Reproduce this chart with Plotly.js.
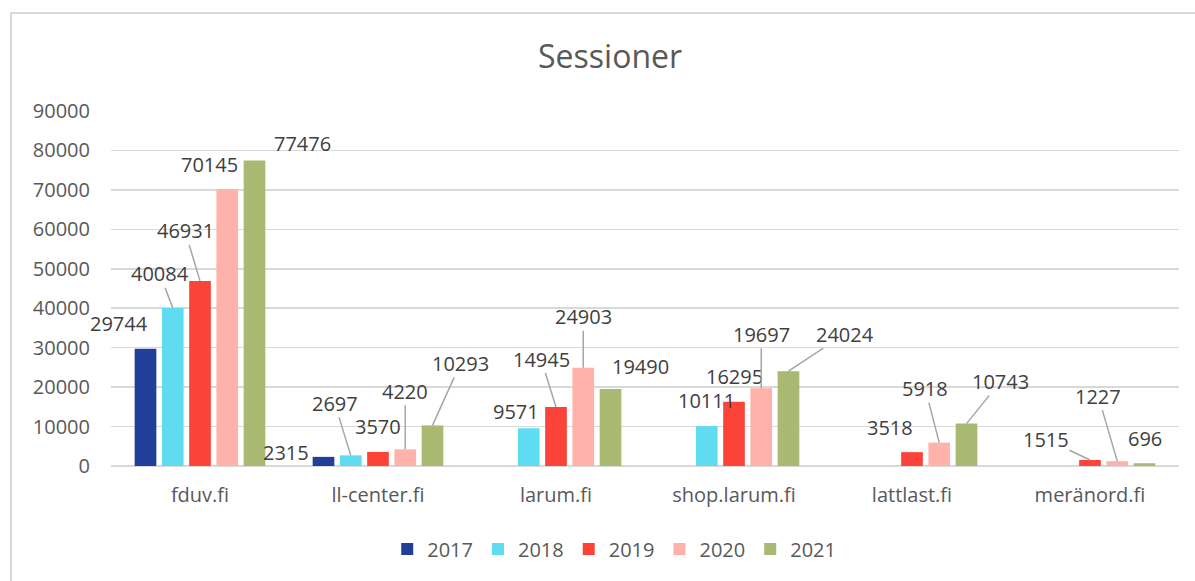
<!DOCTYPE html>
<html>
<head>
<meta charset="utf-8">
<script src="https://cdn.plot.ly/plotly-3.0.1.min.js"></script>
<style>
  html, body { margin: 0; padding: 0; background: #ffffff; overflow: hidden; }
  #frame { position: absolute; left: 10px; top: 12px; width: 1300px; height: 700px;
           border-left: 2px solid #d9d9d9; border-top: 2px solid #d9d9d9; pointer-events: none; }
  #chart { position: absolute; left: 0; top: 0; width: 1195px; height: 581px; }
</style>
</head>
<body>
<div id="chart"></div>
<div id="frame"></div>
<script>
// ---- data ----
const categories = ['fduv.fi', 'll-center.fi', 'larum.fi', 'shop.larum.fi', 'lattlast.fi', 'meränord.fi'];
const seriesNames = ['2017', '2018', '2019', '2020', '2021'];
const v2017 = [29744, 2315, null, null, null, null];
const v2018 = [40084, 2697, 9571, 10111, null, null];
const v2019 = [46931, 3570, 14945, 16295, 3518, 1515];
const v2020 = [70145, 4220, 24903, 19697, 5918, 1227];
const v2021 = [77476, 10293, 19490, 24024, 10743, 696];
const yTicks = [0, 10000, 20000, 30000, 40000, 50000, 60000, 70000, 80000, 90000];

// ---- styles ----
const colors = ['#213F99', '#5FDCF2', '#FC433A', '#FEB2A9', '#A9B972'];
const allSeries = [v2017, v2018, v2019, v2020, v2021];

// label placement (pixel offsets of label centre from bar top, leader line flag)
// [series][category] -> [dx, dy, leader]
const labelPlacement = [
  [[-27, -25, 0], [-38, -4, 0], null, null, null, null],
  [[-13, -34, 1], [-16, -52, 1], [-13, -17, 0], [0, -26, 0], null, null],
  [[-15, -50, 1], [0, -25, 0], [-15, -48, 1], [0, -25, 0], [-22, -25, 0], [-44, -21, 1]],
  [[-18, -25, 0], [0, -58, 1], [0, -51, 1], [0, -54, 1], [-14, -54, 1], [-19, -65, 1]],
  [[48, -17, 0], [28, -62, 1], [30, -23, 0], [56, -37, 1], [34, -42, 1], [0, -25, 0]]
];

const bargap = 0.2346;
const bargroupgap = 0.204;
const nS = seriesNames.length;
const slot = (1 - bargap) / nS;

const traces = allSeries.map((vals, j) => ({
  type: 'bar',
  name: seriesNames[j],
  x: categories,
  y: vals,
  marker: { color: colors[j] },
  hoverinfo: 'skip'
}));

const annotations = [];
allSeries.forEach((vals, j) => {
  vals.forEach((v, i) => {
    if (v === null) return;
    const p = labelPlacement[j][i];
    annotations.push({
      xref: 'x', yref: 'y',
      x: i + (j - (nS - 1) / 2) * slot,
      y: v,
      text: String(v),
      showarrow: true,
      arrowhead: 0,
      arrowwidth: 1.5,
      arrowcolor: p[2] ? '#a6a6a6' : 'rgba(0,0,0,0)',
      standoff: 0,
      startstandoff: 0,
      ax: p[0], ay: p[1],
      borderpad: 0,
      font: { family: 'Open Sans, sans-serif', size: 20, color: '#404040' }
    });
  });
});

const layout = {
  width: 1195, height: 581,
  paper_bgcolor: 'rgba(0,0,0,0)',
  plot_bgcolor: 'rgba(0,0,0,0)',
  margin: { l: 111, r: 16, t: 111, b: 115, autoexpand: false },
  barmode: 'group',
  bargap: bargap,
  bargroupgap: bargroupgap,
  title: {
    text: 'Sessioner',
    font: { family: 'Open Sans, sans-serif', size: 32, color: '#595959' },
    xref: 'container', yref: 'container',
    x: 0.5105, y: 0.902, xanchor: 'center', yanchor: 'middle'
  },
  xaxis: {
    type: 'category',
    range: [-0.5, categories.length - 0.5],
    autorange: false,
    showgrid: false,
    showline: false,
    ticks: '',
    ticklabelstandoff: 15,
    tickfont: { family: 'Open Sans, sans-serif', size: 20, color: '#595959' }
  },
  yaxis: {
    range: [0, 90000],
    autorange: false,
    tickvals: yTicks,
    ticktext: yTicks.map(String),
    showgrid: true,
    gridcolor: '#d9d9d9',
    gridwidth: 1.6,
    zeroline: true,
    zerolinecolor: '#d9d9d9',
    zerolinewidth: 2,
    showline: false,
    ticks: '',
    ticklabelstandoff: 20,
    tickfont: { family: 'Open Sans, sans-serif', size: 20, color: '#595959' }
  },
  showlegend: true,
  legend: {
    orientation: 'h',
    xref: 'container', yref: 'container',
    x: 0.514, y: 0.055, xanchor: 'center', yanchor: 'middle',
    font: { family: 'Open Sans, sans-serif', size: 20, color: '#595959' },
    itemclick: false, itemdoubleclick: false
  },
  annotations: annotations
};

Plotly.newPlot('chart', traces, layout, { staticPlot: true, displayModeBar: false });
</script>
</body>
</html>
